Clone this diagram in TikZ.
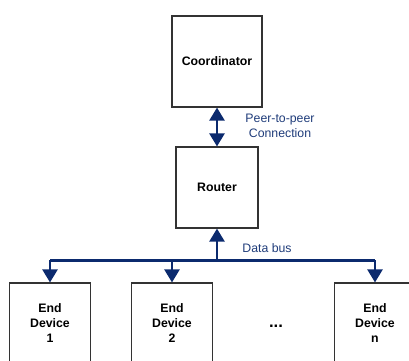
\documentclass[tikz,border=0pt]{standalone}
\usepackage{fontspec}
\setmainfont{Liberation Sans}
\usepackage{xcolor}
\usetikzlibrary{positioning, arrows.meta}

\definecolor{navy}{HTML}{0B2A6E}
\definecolor{navytext}{HTML}{1F3C7A}

\begin{document}
\begin{tikzpicture}[
    x=0.02cm, y=-0.02cm,
    >={Triangle[width=8.5pt, length=7.5pt]},
    box/.style={
      draw=black!80, line width=0.6pt,
      align=center, font=\fontsize{7}{8.8}\selectfont\bfseries,
      inner sep=0pt},
    devbox/.style={box, minimum width=1.62cm, minimum height=1.6cm},
    arr/.style={->, line width=1.7pt, navy},
    dbl/.style={<->, line width=1.7pt, navy},
    lbl/.style={font=\fontsize{7}{8.5}\selectfont, text=navytext,
                align=center},
]

\clip (0,0) rectangle (409,360);

% Column positions
\def\colA{50}
\def\colB{172}
\def\colC{217}
\def\colN{375}

% --- Top of the tree ---
\node[box, minimum width=1.8cm, minimum height=1.82cm]
  (coord) at (\colC, 61.5) {Coordinator};
\node[box, minimum width=1.64cm, minimum height=1.62cm]
  (router) at (\colC, 187.5) {Router};

\draw[dbl] (coord) -- (router);
\node[lbl] (p2p) at (280, 125.5) {Peer-to-peer\\Connection};

% --- End devices ---
\node[devbox] (dev1) at (\colA, 323) {End\\Device\\1};
\node[devbox] (dev2) at (\colB, 323) {End\\Device\\2};
\node[devbox] (devn) at (\colN, 323) {End\\Device\\n};
\node[font=\fontsize{9.5}{10}\selectfont\bfseries]
  (dots) at (276, 326) {...};

% --- Data bus ---
\coordinate (bus) at (\colC, 260);
\draw[line width=1.7pt, navy]
  (dev1.north |- bus) -- (devn.north |- bus);
\draw[arr] (bus) -- (router);
\foreach \d in {dev1, dev2, devn}
  \draw[arr] (\d.north |- bus) -- (\d.north);
\node[lbl] (buslbl) at (267, 248) {Data bus};

\end{tikzpicture}
\end{document}
